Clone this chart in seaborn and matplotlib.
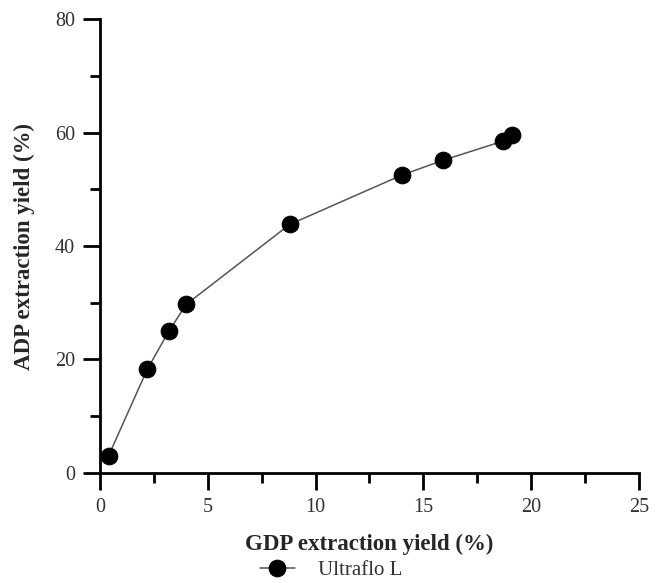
import numpy as np
import pandas as pd
import seaborn as sns
import matplotlib.pyplot as plt
from matplotlib.ticker import MultipleLocator

# Data
gdp_yield = [0.4, 2.2, 3.2, 4.0, 8.8, 14.0, 15.9, 18.7, 19.1]
adp_yield = [3.0, 18.3, 25.0, 29.7, 43.8, 52.5, 55.1, 58.5, 59.6]
series_name = "Ultraflo L"

df = pd.DataFrame({"GDP": gdp_yield, "ADP": adp_yield})

sns.set_style("ticks")
plt.rcParams['font.family'] = ['Liberation Serif', 'DejaVu Serif']

fig = plt.figure(figsize=(6.62, 5.83), dpi=100)
ax = fig.add_axes([0.151, 0.189, 0.814, 0.778])

sns.lineplot(data=df, x="GDP", y="ADP", marker="o", markersize=12,
             color="#555555", markerfacecolor="black", markeredgecolor="black",
             linewidth=1.1, label=series_name, ax=ax, sort=False)

ax.set_xlim(0, 25)
ax.set_ylim(0, 80)
ax.xaxis.set_major_locator(MultipleLocator(5))
ax.xaxis.set_minor_locator(MultipleLocator(2.5))
ax.yaxis.set_major_locator(MultipleLocator(20))
ax.yaxis.set_minor_locator(MultipleLocator(10))

sns.despine(ax=ax)
for s in ["left", "bottom"]:
    ax.spines[s].set_linewidth(2)
    ax.spines[s].set_color("black")
ax.tick_params(which="major", length=12, width=2, color="black", labelsize=14.5, labelcolor="#333333", pad=6)
ax.tick_params(which="minor", length=7, width=2, color="black")

ax.set_xlabel("GDP extraction yield (%)", fontsize=16.5, fontweight="bold", labelpad=12)
ax.set_ylabel("ADP extraction yield (%)", fontsize=16.5, fontweight="bold", labelpad=14)

ax.get_legend().remove()
handles, labels = ax.get_legend_handles_labels()
fig.legend(handles, labels, loc="center", bbox_to_anchor=(0.5, 0.022), frameon=False,
           fontsize=15, handlelength=1.7, handletextpad=1.1, labelcolor="#333333",
           borderpad=0.2)

fig.savefig("out.png", dpi=100)
